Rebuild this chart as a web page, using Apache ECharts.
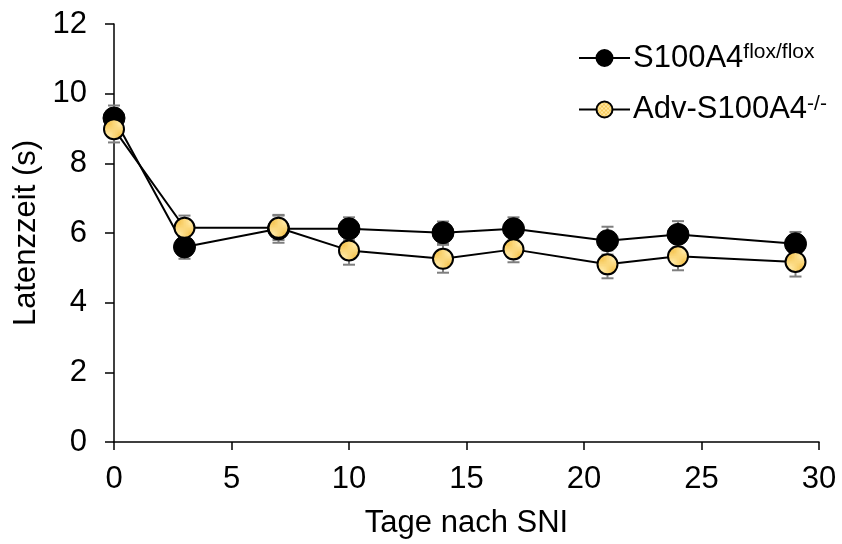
<!DOCTYPE html>
<html>
<head>
<meta charset="utf-8">
<script src="https://cdn.jsdelivr.net/npm/echarts@6/dist/echarts.min.js"></script>
<style>
html,body{margin:0;padding:0;background:#fff;}
#chart{width:842px;height:544px;}
</style>
</head>
<body>
<div id="chart"></div>
<script>
const days = [0, 3, 7, 10, 14, 17, 21, 24, 29];
const floxMean = [9.30, 5.60, 6.12, 6.12, 6.01, 6.12, 5.78, 5.96, 5.69];
const floxErr  = [0.36, 0.34, 0.40, 0.33, 0.32, 0.33, 0.40, 0.38, 0.34];
const advMean  = [8.98, 6.15, 6.15, 5.50, 5.26, 5.53, 5.10, 5.33, 5.17];
const advErr   = [0.38, 0.35, 0.35, 0.41, 0.40, 0.37, 0.40, 0.40, 0.42];
const seriesNames = ['S100A4', 'Adv-S100A4'];
const superscripts = ['flox/flox', '-/-'];
const xTicks = [0, 5, 10, 15, 20, 25, 30];
const yTicks = [0, 2, 4, 6, 8, 10, 12];

const FONT = '"Liberation Sans", Arial, sans-serif';
const FS = 31;

// checkered yellow pattern
const pc = document.createElement('canvas');
pc.width = 4; pc.height = 4;
const pctx = pc.getContext('2d');
pctx.fillStyle = '#FFE7A0';
pctx.fillRect(0, 0, 4, 4);
pctx.fillStyle = '#F7C95A';
pctx.fillRect(0, 0, 2, 2);
pctx.fillRect(2, 2, 2, 2);
const yellowPattern = { image: pc, repeat: 'repeat' };

function pairs(xs, ys) { return xs.map((x, i) => [x, ys[i]]); }
function errData(xs, m, e) { return xs.map((x, i) => [x, m[i] - e[i], m[i] + e[i]]); }

function renderErr(params, api) {
  const x = api.value(0);
  const lo = api.coord([x, api.value(1)]);
  const hi = api.coord([x, api.value(2)]);
  const hw = 6;
  const st = { stroke: '#7f7f7f', lineWidth: 2 };
  return {
    type: 'group',
    children: [
      { type: 'line', shape: { x1: lo[0], y1: lo[1], x2: hi[0], y2: hi[1] }, style: st },
      { type: 'line', shape: { x1: lo[0] - hw, y1: lo[1], x2: lo[0] + hw, y2: lo[1] }, style: st },
      { type: 'line', shape: { x1: hi[0] - hw, y1: hi[1], x2: hi[0] + hw, y2: hi[1] }, style: st }
    ]
  };
}

const chart = echarts.init(document.getElementById('chart'), null, { renderer: 'canvas' });
chart.setOption({
  animation: false,
  backgroundColor: '#fff',
  textStyle: { fontFamily: FONT },
  grid: { left: 114, right: 23, top: 24, bottom: 101 },
  legend: {
    orient: 'vertical',
    left: 573,
    top: 37,
    itemWidth: 51,
    itemHeight: 20,
    itemGap: 20,
    data: seriesNames,
    textStyle: {
      color: '#000', fontFamily: FONT, fontSize: FS, padding: [0, 0, 0, -2],
      rich: {
        m: { fontSize: FS, fontFamily: FONT, color: '#000', lineHeight: 32 },
        s: { fontSize: 21, fontFamily: FONT, color: '#000', verticalAlign: 'top', lineHeight: 20 }
      }
    },
    formatter: function (name) {
      const i = seriesNames.indexOf(name);
      return '{m|' + name + '}{s|' + superscripts[i] + '}';
    }
  },
  xAxis: {
    type: 'value', min: 0, max: 30, interval: 5,
    name: 'Tage nach SNI', nameLocation: 'middle', nameGap: 66,
    nameTextStyle: { fontSize: FS, color: '#000', fontFamily: FONT },
    axisLine: { onZero: false, lineStyle: { color: '#000', width: 1.5 } },
    axisTick: { show: true, inside: false, length: 8, lineStyle: { color: '#000', width: 1.5 } },
    axisLabel: { fontSize: FS, color: '#000', margin: 22, fontFamily: FONT,
      formatter: v => xTicks.includes(v) ? String(v) : '' },
    splitLine: { show: false }
  },
  yAxis: {
    type: 'value', min: 0, max: 12, interval: 2,
    name: 'Latenzzeit (s)', nameLocation: 'middle', nameGap: 72,
    nameTextStyle: { fontSize: FS, color: '#000', fontFamily: FONT },
    axisLine: { show: true, lineStyle: { color: '#000', width: 1.5 } },
    axisTick: { show: true, inside: false, length: 9, lineStyle: { color: '#000', width: 1.5 } },
    axisLabel: { fontSize: FS, color: '#000', margin: 27, fontFamily: FONT,
      formatter: v => yTicks.includes(v) ? String(v) : '' },
    splitLine: { show: false }
  },
  series: [
    { name: seriesNames[0] + '_err', type: 'custom', renderItem: renderErr,
      data: errData(days, floxMean, floxErr), z: 1, silent: true, encode: { x: 0, y: [1, 2] } },
    { name: seriesNames[1] + '_err', type: 'custom', renderItem: renderErr,
      data: errData(days, advMean, advErr), z: 1, silent: true, encode: { x: 0, y: [1, 2] } },
    { name: seriesNames[0], type: 'line', data: pairs(days, floxMean), z: 3,
      symbol: 'circle', symbolSize: 22, showAllSymbol: true,
      lineStyle: { color: '#000', width: 2 },
      itemStyle: { color: '#000', borderColor: '#000', borderWidth: 1 } },
    { name: seriesNames[1], type: 'line', data: pairs(days, advMean), z: 4,
      symbol: 'circle', symbolSize: 20, showAllSymbol: true,
      lineStyle: { color: '#000', width: 2 },
      itemStyle: { color: yellowPattern, borderColor: '#000', borderWidth: 2 } }
  ]
});
</script>
</body>
</html>
